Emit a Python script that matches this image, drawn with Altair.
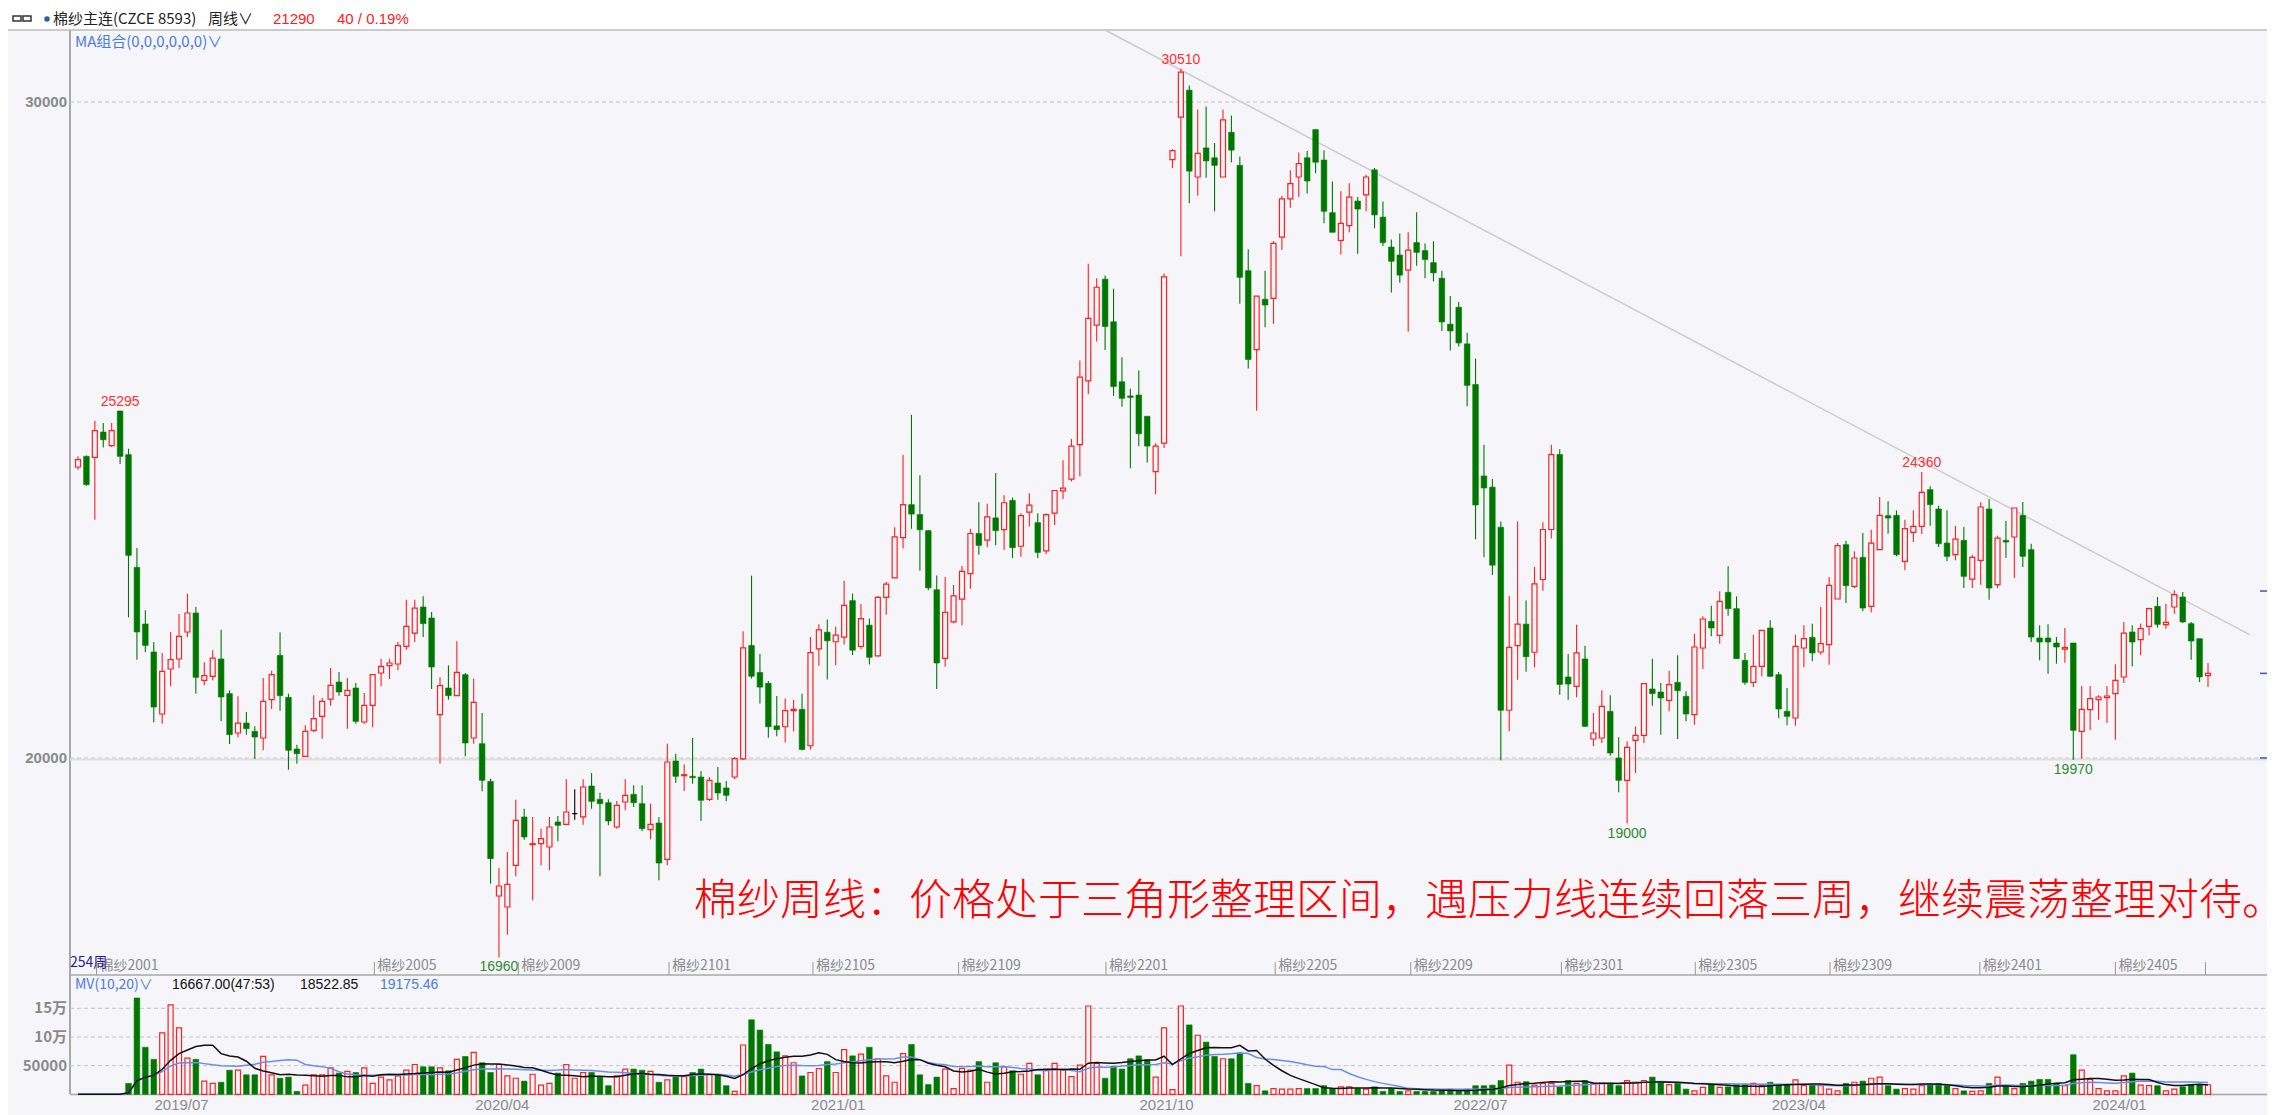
import altair as alt
import pandas as pd
import numpy as np

# ---------------- data ----------------
OPEN = [24436, 24598, 24583, 24969, 24761, 25290, 24624, 22906, 22043, 21616,
        20671, 21357, 21509, 21921, 22210, 21184, 21245, 21509, 20981, 20381,
        20533, 20406, 20305, 20889, 21565, 20925, 20137, 20025, 20422, 20635,
        20899, 21158, 20955, 21067, 20549, 20803, 21296, 21407, 21433, 21702,
        21905, 22302, 22134, 20661, 21067, 20950, 21270, 20305, 20218, 19644,
        17896, 17729, 18364, 19101, 18679, 18694, 18643, 19024, 18989, 19151,
        19101, 19573, 19370, 19319, 18948, 19329, 19446, 19304, 18908, 19009,
        18455, 19954, 19731, 19721, 19710, 19370, 19619, 19543, 19710, 19986,
        21715, 21304, 21138, 20490, 20476, 20721, 20742, 20187, 21664, 21917,
        21772, 21844, 22399, 21700, 22025, 21556, 22450, 22745, 23358, 23862,
        23711, 23466, 22565, 21520, 22075, 22421, 22810, 23422, 23322, 23660,
        23480, 23927, 23228, 23747, 23588, 23156, 23732, 24071, 24251, 24777,
        25750, 26600, 27299, 26650, 25735, 25519, 25533, 25209, 24366, 24799,
        29121, 29770, 30180, 28857, 29300, 29150, 28857, 29538, 29034, 27429,
        26225, 26993, 27007, 27939, 28524, 28857, 29150, 29579, 29116, 28313,
        27891, 28116, 28490, 28585, 28966, 28245, 27789, 27667, 27436, 27857,
        27735, 27551, 27313, 26613, 26871, 26313, 25694, 24299, 24129, 23517,
        20728, 21714, 22041, 21612, 22721, 23483, 24626, 21235, 21092, 21509,
        20290, 20305, 20711, 20000, 19660, 20269, 20346, 21052, 21006, 20879,
        21153, 20940, 20661, 21677, 22083, 21870, 22525, 22276, 21489, 21153,
        21397, 21982, 21270, 20711, 20610, 21677, 21839, 21616, 21728, 22424,
        23252, 22617, 23059, 22312, 23176, 23694, 23699, 22998, 23440, 23531,
        24090, 23796, 23277, 23099, 23318, 22728, 23013, 23796, 22642, 23318,
        23369, 23699, 23176, 21829, 21829, 21753, 21661, 21753, 20406, 20737,
        20889, 20920, 20981, 21235, 21921, 21804, 22007, 22312, 22032, 22302,
        22454, 22048, 21819, 21255]
HIGH = [24598, 24610, 25142, 25106, 25106, 25295, 24715, 23201, 22251, 21768,
        21600, 21921, 22195, 22505, 22302, 21458, 21641, 21956, 21031, 20940,
        20701, 20483, 21219, 21331, 21916, 20981, 20203, 20498, 20955, 20915,
        21372, 21311, 21219, 21143, 20991, 21270, 21514, 21514, 21768, 22413,
        22413, 22464, 22225, 21230, 21413, 21778, 21296, 21209, 20686, 19685,
        18328, 18567, 19365, 19228, 19101, 18923, 19101, 19116, 19675, 19522,
        19675, 19771, 19472, 19370, 19345, 19675, 19583, 19583, 19304, 19101,
        20218, 20066, 19903, 20305, 19802, 19710, 19863, 19649, 20015, 21931,
        22781, 21585, 21174, 20944, 20908, 20886, 20980, 21844, 22039, 22111,
        22003, 22702, 22507, 22349, 22125, 22471, 22687, 23516, 24618, 25231,
        24309, 23470, 22781, 22760, 22637, 22925, 23494, 23898, 23876, 24345,
        24006, 23970, 23732, 24035, 23732, 23732, 24078, 24539, 24863, 26059,
        27536, 27313, 27356, 27155, 26110, 25627, 25908, 25209, 24799, 27385,
        29280, 30510, 30250, 29885, 29932, 29375, 29885, 29796, 29170, 27755,
        27041, 27429, 27878, 28572, 28960, 29232, 29252, 29579, 29266, 28789,
        28640, 28762, 28551, 28892, 28994, 28483, 27905, 27994, 28014, 28320,
        27844, 27878, 27429, 27041, 26953, 26483, 26089, 24776, 24252, 23606,
        22469, 23606, 22401, 22912, 23592, 24776, 24708, 21585, 22032, 21712,
        20686, 21031, 20955, 20315, 20254, 20483, 21133, 21514, 21143, 21331,
        21565, 21016, 21895, 22159, 22322, 22541, 22922, 22464, 21601, 21880,
        21946, 22098, 21311, 21067, 21880, 22022, 22048, 22302, 22759, 23277,
        23313, 23150, 23430, 23480, 23978, 23912, 23775, 23633, 23775, 24360,
        24141, 23846, 23775, 23541, 23521, 23099, 23897, 23948, 23389, 23618,
        23811, 23902, 23267, 22022, 22037, 21844, 21982, 21753, 21097, 21097,
        20955, 21097, 21428, 22073, 22022, 22048, 22292, 22454, 22353, 22556,
        22530, 22073, 21819, 21448]
LOW = [24395, 24150, 23633, 24735, 24740, 24481, 22144, 21499, 21611, 20544,
       20523, 21092, 21372, 21844, 20981, 21108, 21184, 20559, 20213, 20315,
       20356, 19985, 20117, 20747, 20721, 19822, 19914, 20015, 20391, 20295,
       20798, 20950, 20447, 20523, 20523, 20467, 21092, 21204, 21336, 21651,
       21768, 21844, 21052, 19914, 20889, 20950, 20025, 20218, 19492, 18084,
       16960, 17307, 18196, 18755, 17830, 18364, 18288, 18730, 18989, 19060,
       18984, 19228, 18196, 18974, 18923, 19202, 19253, 18887, 18760, 18135,
       18364, 19619, 19497, 19609, 19040, 19345, 19365, 19339, 19675, 19971,
       21210, 20829, 20310, 20331, 20238, 20403, 20115, 20130, 21405, 21196,
       21412, 21729, 21571, 21657, 21427, 21549, 22183, 22745, 23192, 23494,
       22853, 22558, 21052, 21391, 22053, 22025, 22579, 23098, 23213, 23242,
       23170, 23048, 23069, 23530, 23048, 23105, 23552, 23948, 24215, 24294,
       25548, 26348, 26218, 25519, 25353, 24417, 24755, 24503, 24020, 24726,
       28992, 27650, 28456, 28572, 28844, 28334, 28857, 29082, 26925, 25939,
       25293, 26565, 26619, 27742, 28388, 28551, 28606, 28912, 28150, 28014,
       27674, 28014, 27687, 28334, 28075, 27803, 27095, 27245, 26497, 27504,
       27313, 27266, 26510, 26211, 26272, 25361, 23333, 23061, 22789, 19966,
       20408, 21191, 21313, 21381, 22551, 23347, 20966, 20889, 20925, 20473,
       20178, 20229, 20036, 19477, 19000, 19771, 20229, 20798, 20356, 20711,
       20290, 20559, 20508, 21357, 21855, 21743, 22170, 21514, 21118, 21082,
       21245, 21235, 20610, 20498, 20493, 21382, 21473, 21575, 21423, 22424,
       22363, 22591, 22236, 22220, 23176, 23420, 23074, 22861, 23292, 23414,
       23541, 23216, 22998, 23013, 22591, 22591, 22642, 22413, 22591, 23049,
       22744, 22911, 21768, 21489, 21285, 21438, 21453, 19970, 19990, 20422,
       20584, 20534, 20279, 21143, 21397, 21565, 21870, 21987, 21971, 22200,
       22058, 21499, 21158, 21082]
CLOSE = [24547, 24166, 24990, 24852, 24990, 24598, 23089, 21921, 21717, 20777,
         21321, 21499, 21855, 22210, 21230, 21255, 21524, 20930, 20356, 20533,
         20447, 20320, 20864, 21270, 20950, 20117, 20066, 20406, 20600, 20864,
         21108, 21006, 21031, 20559, 20803, 21270, 21397, 21448, 21712, 22007,
         22286, 22048, 21387, 21103, 20950, 21306, 20229, 20849, 19660, 18466,
         18049, 18074, 19050, 18796, 18694, 18770, 18948, 18974, 19177, 19151,
         19558, 19339, 19304, 19040, 19279, 19431, 19319, 18923, 18989, 18399,
         19939, 19721, 19746, 19700, 19355, 19660, 19466, 19431, 19990, 21679,
         21246, 21081, 20476, 20432, 20721, 20742, 20130, 21607, 21953, 21787,
         21873, 22327, 21643, 22125, 21535, 22450, 22651, 23372, 23862, 23718,
         23480, 22594, 21448, 22219, 22471, 22846, 23422, 23242, 23675, 23466,
         23891, 23206, 23696, 23855, 23134, 23711, 24078, 24114, 24755, 25807,
         26701, 27176, 26578, 25663, 25483, 25497, 24943, 24755, 24755, 27335,
         29258, 30455, 28946, 29218, 29102, 29034, 29728, 29266, 27327, 26075,
         27041, 26905, 27844, 28524, 28755, 29062, 28796, 29082, 28334, 28014,
         28150, 28551, 28368, 28857, 28279, 27857, 27572, 27361, 27742, 27708,
         27599, 27395, 26647, 26510, 26327, 25681, 23857, 24116, 22939, 20728,
         21687, 22041, 21544, 22653, 23483, 24626, 21122, 21128, 21601, 20483,
         20381, 20788, 20076, 19660, 20163, 20346, 21133, 20981, 20915, 21118,
         21026, 20671, 21692, 22119, 21982, 22388, 22276, 21514, 21153, 21397,
         21946, 21245, 20747, 20635, 21702, 21819, 21601, 21743, 22632, 23237,
         22627, 23049, 22286, 23277, 23699, 23658, 23099, 23496, 23531, 24050,
         23862, 23267, 23074, 23338, 22769, 23059, 23826, 22591, 23353, 23292,
         23811, 23074, 21844, 21768, 21768, 21692, 21682, 20422, 20742, 20904,
         20930, 20945, 21184, 21905, 21768, 21971, 22276, 22037, 22068, 22490,
         22073, 21783, 21235, 21290]
VOLUME = [0, 0, 0, 0, 0, 0, 19000, 168000, 82000, 61000,
          107000, 156000, 116000, 63000, 61000, 23000, 19000, 21000, 42000, 42000,
          34000, 34000, 66000, 34000, 28000, 30000, 5000, 16000, 34000, 34000,
          46000, 37000, 40000, 38000, 46000, 19000, 30000, 25000, 32000, 42000,
          52000, 48000, 48000, 46000, 41000, 61000, 66000, 73000, 55000, 38000,
          52000, 32000, 28000, 23000, 35000, 16000, 19000, 37000, 52000, 28000,
          38000, 38000, 30000, 15000, 32000, 44000, 44000, 42000, 40000, 21000,
          25000, 30000, 31000, 38000, 44000, 35000, 34000, 15000, 5000, 86000,
          130000, 112000, 87000, 74000, 67000, 55000, 32000, 38000, 45000, 57000,
          38000, 78000, 67000, 70000, 82000, 62000, 32000, 21000, 71000, 87000,
          34000, 17000, 30000, 44000, 10000, 45000, 42000, 57000, 21000, 55000,
          48000, 41000, 35000, 54000, 34000, 44000, 54000, 44000, 31000, 51000,
          154000, 54000, 28000, 49000, 44000, 62000, 67000, 60000, 30000, 116000,
          8000, 154000, 121000, 103000, 91000, 66000, 62000, 62000, 71000, 19000,
          15000, 6000, 10000, 9000, 9000, 10000, 10000, 10000, 15000, 10000,
          13000, 13000, 10000, 9000, 13000, 5000, 10000, 5000, 6000, 5000,
          5000, 5000, 6000, 9000, 5000, 9000, 15000, 15000, 16000, 24000,
          51000, 21000, 22000, 16000, 19000, 19000, 13000, 24000, 19000, 24000,
          19000, 19000, 19000, 15000, 24000, 21000, 24000, 30000, 21000, 17000,
          20000, 9000, 6000, 12000, 17000, 12000, 13000, 17000, 17000, 19000,
          15000, 21000, 17000, 17000, 25000, 15000, 17000, 15000, 9000, 6000,
          19000, 21000, 23000, 28000, 30000, 15000, 9000, 10000, 9000, 15000,
          18000, 19000, 15000, 10000, 6000, 5000, 6000, 19000, 30000, 15000,
          10000, 19000, 23000, 26000, 26000, 19000, 15000, 69000, 42000, 26000,
          10000, 6000, 6000, 32000, 37000, 16000, 15000, 15000, 6000, 9000,
          13000, 17000, 17000, 16667]

PRICE_TICKS = [20000, 30000]
VOL_TICKS = [50000, 100000, 150000]
VOL_TICK_LABELS = ["50000", "10万", "15万"]
CONTRACT_LABELS = ["棉纱2001", "棉纱2005", "棉纱2009", "棉纱2101", "棉纱2105", "棉纱2109",
                   "棉纱2201", "棉纱2205", "棉纱2209", "棉纱2301", "棉纱2305", "棉纱2309",
                   "棉纱2401", "棉纱2405", ""]
CONTRACT_POS = [3.2, 36.2, 53.3, 71.2, 88.3, 105.6, 123.1, 143.2, 159.3, 177.2, 193.1,
                209.1, 226.9, 243.0, 253.7]
DATE_LABELS = ["2019/07", "2020/04", "2021/01", "2021/10", "2022/07", "2023/04", "2024/01"]
DATE_POS = [13.3, 51.4, 91.3, 130.3, 167.6, 205.4, 243.5]
HIGH_MARK_N = [6, 132, 220]
HIGH_MARK_V = [25295, 30510, 24360]
LOW_MARK_N = [51, 185, 238]
LOW_MARK_V = [16960, 19000, 19970]
TREND_N = [123, 259]
TREND_P = [31098, 21876]
PRICE_MARKS = [22545, 21290, 20000]
NOTE = "棉纱周线：价格处于三角形整理区间，遇压力线连续回落三周，继续震荡整理对待。"

# ---------------- layout / style ----------------
W, H = 2259, 1107
BG = "#f5f5fa"
RED = "#ff1f1f"
GREEN = "#007800"
GRAY = "#8a8a8a"
LINE = "#a8a8a8"
BLUE = "#4a7be0"
CJK = "Noto Sans CJK SC"
LAT = "Liberation Sans"

XS = alt.Scale(domain=[1, 254], range=[65, 2205], nice=False, zero=False)
PS = alt.Scale(domain=[20000, 30000], range=[750, 94], nice=False, zero=False)
VS = alt.Scale(domain=[0, 150000], range=[1086.3, 1000.3], nice=False, zero=False)

df = pd.DataFrame(dict(n=np.arange(1, len(OPEN) + 1), open=OPEN, high=HIGH,
                       low=LOW, close=CLOSE, vol=VOLUME))
df["lo"] = df[["open", "close"]].min(axis=1)
df["hi"] = df[["open", "close"]].max(axis=1)
df["dir"] = np.where(df.close > df.open, "up", np.where(df.close < df.open, "down", "flat"))
df["col"] = df["dir"].map({"up": RED, "down": GREEN, "flat": "#000000"})
df["vcol"] = df["dir"].map({"up": RED, "down": GREEN, "flat": RED})
df["ma10"] = df["vol"].rolling(10, min_periods=1).mean()
df["ma20"] = df["vol"].rolling(20, min_periods=1).mean()

base = alt.Chart(df)
X = alt.X("n:Q", scale=XS, axis=None)
one = pd.DataFrame({"a": [0]})


def hrule(y, x1, x2, color, width=1, dash=None):
    kw = dict(color=color, strokeWidth=width)
    if dash:
        kw["strokeDash"] = dash
    return alt.Chart(one).mark_rule(**kw).encode(
        x=alt.value(x1), x2=alt.value(x2), y=alt.value(y))


def vrule(x, y1, y2, color, width=1):
    return alt.Chart(one).mark_rule(color=color, strokeWidth=width).encode(
        x=alt.value(x), y=alt.value(y1), y2=alt.value(y2))


def txt(t, x, y, color, size, align="left", weight="normal", font=CJK):
    return alt.Chart(pd.DataFrame({"t": [t]})).mark_text(
        align=align, baseline="middle", fontSize=size, font=font,
        fontWeight=weight, color=color).encode(
        x=alt.value(x), y=alt.value(y), text="t:N")


layers = []
# header strip
layers.append(alt.Chart(one).mark_rect(color="#ffffff").encode(
    x=alt.value(0), x2=alt.value(W), y=alt.value(0), y2=alt.value(22)))
layers.append(hrule(22, 0, W, "#bdbdbd", 1.5))
layers.append(vrule(62, 22, 1086, LINE, 2))
layers.append(hrule(967, 62, W, LINE, 1.5))
layers.append(hrule(1086.5, 62, W, LINE, 1.5))

# grids
gp = pd.DataFrame({"p": PRICE_TICKS, "lbl": [str(v) for v in PRICE_TICKS]})
layers.append(alt.Chart(gp).mark_rule(color="#c4c4c4", strokeDash=[4, 3]).encode(
    y=alt.Y("p:Q", scale=PS, axis=None), x=alt.value(62), x2=alt.value(W)))
layers.append(alt.Chart(pd.DataFrame({"p": [19978]})).mark_rule(color="#dedede", strokeWidth=2).encode(
    y=alt.Y("p:Q", scale=PS, axis=None), x=alt.value(62), x2=alt.value(W)))
layers.append(alt.Chart(gp).mark_text(align="right", baseline="middle", fontSize=15,
                                      fontWeight="bold", font=LAT, color=GRAY).encode(
    y=alt.Y("p:Q", scale=PS, axis=None), x=alt.value(59), text="lbl:N"))
gv = pd.DataFrame({"v": VOL_TICKS, "lbl": VOL_TICK_LABELS})
layers.append(alt.Chart(gv).mark_rule(color="#c4c4c4", strokeDash=[4, 3]).encode(
    y=alt.Y("v:Q", scale=VS, axis=None), x=alt.value(62), x2=alt.value(W)))
layers.append(alt.Chart(gv).mark_text(align="right", baseline="middle", fontSize=15,
                                      fontWeight="bold", font=CJK, color=GRAY).encode(
    y=alt.Y("v:Q", scale=VS, axis=None), x=alt.value(59), text="lbl:N"))

# trend line
layers.append(alt.Chart(pd.DataFrame({"n": TREND_N, "p": TREND_P})).mark_line(
    color="#cdcdcd", strokeWidth=1.5).encode(x=X, y=alt.Y("p:Q", scale=PS, axis=None)))

# candles
layers.append(base.mark_rule(strokeWidth=1.1).encode(
    x=X, y=alt.Y("low:Q", scale=PS, axis=None), y2="high:Q",
    color=alt.Color("col:N", scale=None)))
layers.append(base.transform_filter("datum.dir != 'down'").mark_bar(
    size=5, fill=BG, strokeWidth=1.2).encode(
    x=X, y=alt.Y("hi:Q", scale=PS, axis=None), y2="lo:Q",
    stroke=alt.Stroke("col:N", scale=None)))
layers.append(base.transform_filter("datum.dir == 'down'").mark_bar(
    size=5.6, color=GREEN, stroke=GREEN, strokeWidth=0.6).encode(
    x=X, y=alt.Y("hi:Q", scale=PS, axis=None), y2="lo:Q"))

# volume
layers.append(base.transform_filter("datum.vol > 0 && datum.dir != 'down'").mark_bar(
    size=5, fill=BG, strokeWidth=1.2).encode(
    x=X, y=alt.Y("vol:Q", scale=VS, axis=None), y2=alt.datum(0),
    stroke=alt.Stroke("vcol:N", scale=None)))
layers.append(base.transform_filter("datum.vol > 0 && datum.dir == 'down'").mark_bar(
    size=5.6, color=GREEN, stroke=GREEN, strokeWidth=0.6).encode(
    x=X, y=alt.Y("vol:Q", scale=VS, axis=None), y2=alt.datum(0)))
layers.append(base.mark_line(color="#6a8ee8", strokeWidth=1.5).encode(
    x=X, y=alt.Y("ma20:Q", scale=VS, axis=None)))
layers.append(base.mark_line(color="#111111", strokeWidth=1.5).encode(
    x=X, y=alt.Y("ma10:Q", scale=VS, axis=None)))

# high / low marks
layers.append(alt.Chart(pd.DataFrame({"n": HIGH_MARK_N, "p": HIGH_MARK_V})).mark_text(
    dy=-9, fontSize=14, font=LAT, color="#ff3030", baseline="middle").encode(
    x=X, y=alt.Y("p:Q", scale=PS, axis=None), text="p:N"))
layers.append(alt.Chart(pd.DataFrame({"n": LOW_MARK_N, "p": LOW_MARK_V})).mark_text(
    dy=10, fontSize=14, font=LAT, color="#2f8a2f", baseline="middle").encode(
    x=X, y=alt.Y("p:Q", scale=PS, axis=None), text="p:N"))

# contract ticks and labels
ct = pd.DataFrame({"n": CONTRACT_POS, "lbl": CONTRACT_LABELS})
layers.append(alt.Chart(ct).mark_rule(color="#999999", strokeWidth=1).encode(
    x=X, y=alt.value(954), y2=alt.value(967)))
layers.append(alt.Chart(ct).mark_text(align="left", baseline="middle", dx=3, fontSize=14,
                                      font=CJK, color=GRAY).encode(
    x=X, y=alt.value(958), text="lbl:N"))
layers.append(txt("254周", 62, 955, "#1c1c9c", 14))

# date labels
dt = pd.DataFrame({"n": DATE_POS, "lbl": DATE_LABELS})
layers.append(alt.Chart(dt).mark_text(align="center", baseline="middle", fontSize=15,
                                      font=LAT, color=GRAY).encode(
    x=X, y=alt.value(1097), text="lbl:N"))

# right price marks
pm = pd.DataFrame({"p": PRICE_MARKS})
layers.append(alt.Chart(pm).mark_rule(color="#5050b0", strokeWidth=1.5).encode(
    y=alt.Y("p:Q", scale=PS, axis=None), x=alt.value(2252), x2=alt.value(W)))

# header texts
layers.append(alt.Chart(pd.DataFrame({"x": [5, 15]})).transform_calculate(
    x2="datum.x + 8").mark_rect(
    fill="#ffffff", stroke="#333333", strokeWidth=1.5).encode(
    x=alt.X("x:Q", scale=None), x2=alt.X2("x2:Q"), y=alt.value(8), y2=alt.value(13)))
layers.append(alt.Chart(one).mark_circle(color="#2a5caa", size=30, opacity=1).encode(
    x=alt.value(39), y=alt.value(11)))
layers.append(txt("棉纱主连(CZCE 8593)", 45, 11, "#222222", 15))
layers.append(txt("周线∨", 200, 11, "#222222", 15))
layers.append(txt("21290", 265, 11, "#ff2020", 15, font=LAT))
layers.append(txt("40 / 0.19%", 329, 11, "#ff2020", 15, font=LAT))
layers.append(txt("MA组合(0,0,0,0,0,0)∨", 67, 34, BLUE, 15))
layers.append(txt("MV(10,20)∨", 67, 977, BLUE, 14))
layers.append(txt("16667.00(47:53)", 164, 977, "#111111", 14, font=LAT))
layers.append(txt("18522.85", 292, 977, "#111111", 14, font=LAT))
layers.append(txt("19175.46", 372, 977, BLUE, 14, font=LAT))

# annotation
layers.append(txt(NOTE, 686, 894, "#ff0000", 43, weight=300))

chart = alt.layer(*layers).resolve_scale(y="independent").properties(
    width=W, height=H, background=BG, padding=0,
    autosize=alt.AutoSizeParams(type="none", contains="padding"),
).configure_view(stroke=None)

chart.save("out.html", embed_options={"renderer": "svg", "actions": False})
